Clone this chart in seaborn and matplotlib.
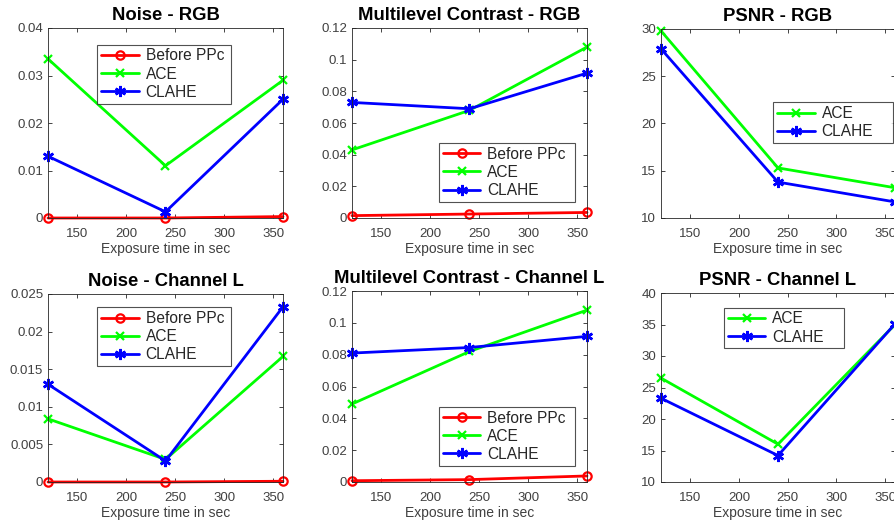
import matplotlib
matplotlib.use("Agg")
import matplotlib.pyplot as plt
import seaborn as sns
import numpy as np
import pandas as pd

exposure = [120, 240, 360]

noise_rgb_before = [0.0, 0.0, 0.0003]
noise_rgb_ace = [0.0335, 0.011, 0.029]
noise_rgb_clahe = [0.013, 0.0013, 0.025]

mc_rgb_before = [0.0015, 0.0025, 0.0035]
mc_rgb_ace = [0.043, 0.068, 0.108]
mc_rgb_clahe = [0.073, 0.069, 0.0915]

psnr_rgb_ace = [29.8, 15.3, 13.2]
psnr_rgb_clahe = [27.9, 13.8, 11.7]

noise_l_before = [0.0, 0.0, 0.0001]
noise_l_ace = [0.0084, 0.003, 0.0167]
noise_l_clahe = [0.013, 0.0028, 0.0233]

mc_l_before = [0.0008, 0.0015, 0.0038]
mc_l_ace = [0.049, 0.082, 0.108]
mc_l_clahe = [0.081, 0.0845, 0.0915]

psnr_l_ace = [26.5, 16.0, 35.0]
psnr_l_clahe = [23.3, 14.2, 35.1]

titles = ["Noise - RGB", "Multilevel Contrast - RGB", "PSNR - RGB",
          "Noise - Channel L", "Multilevel Contrast - Channel L", "PSNR - Channel L"]
xticks = [150, 200, 250, 300, 350]

sns.set_style("white")
plt.rcParams['font.family'] = ['Liberation Sans', 'DejaVu Sans']

W, H = 895, 524
fig = plt.figure(figsize=(W / 100, H / 100), dpi=100)

def add_ax(l, t, r, b):
    return fig.add_axes([l / W, 1 - b / H, (r - l) / W, (b - t) / H])

styles = {
    "Before PPc": dict(color=(1, 0, 0), marker="o", mfc="none", ms=6, mew=1.6),
    "ACE": dict(color=(0, 1, 0), marker="x", ms=6, mew=1.6),
    "CLAHE": dict(color=(0, 0, 1), marker=(6, 2, 0), ms=8, mew=1.8),
}

panels = [
    dict(pos=(48, 28, 283, 218), series={"Before PPc": noise_rgb_before, "ACE": noise_rgb_ace, "CLAHE": noise_rgb_clahe},
         ylim=(0, 0.04), yticks=[0, 0.01, 0.02, 0.03, 0.04], leg=(0.21, 0.59, 0.57, 0.335)),
    dict(pos=(352, 28, 587, 218), series={"Before PPc": mc_rgb_before, "ACE": mc_rgb_ace, "CLAHE": mc_rgb_clahe},
         ylim=(0, 0.12), yticks=[0, 0.02, 0.04, 0.06, 0.08, 0.1, 0.12], leg=(0.37, 0.07, 0.58, 0.34)),
    dict(pos=(661, 29, 895, 218), series={"ACE": psnr_rgb_ace, "CLAHE": psnr_rgb_clahe},
         ylim=(10, 30), yticks=[10, 15, 20, 25, 30], leg=(0.48, 0.39, 0.51, 0.23)),
    dict(pos=(48, 294, 283, 482), series={"Before PPc": noise_l_before, "ACE": noise_l_ace, "CLAHE": noise_l_clahe},
         ylim=(0, 0.025), yticks=[0, 0.005, 0.01, 0.015, 0.02, 0.025], leg=(0.21, 0.60, 0.57, 0.345)),
    dict(pos=(352, 291, 587, 482), series={"Before PPc": mc_l_before, "ACE": mc_l_ace, "CLAHE": mc_l_clahe},
         ylim=(0, 0.12), yticks=[0, 0.02, 0.04, 0.06, 0.08, 0.1, 0.12], leg=(0.37, 0.07, 0.58, 0.34)),
    dict(pos=(661, 293, 895, 482), series={"ACE": psnr_l_ace, "CLAHE": psnr_l_clahe},
         ylim=(10, 40), yticks=[10, 15, 20, 25, 30, 35, 40], leg=(0.27, 0.70, 0.51, 0.23)),
]

axc = (0.15, 0.15, 0.15)
for i, p in enumerate(panels):
    ax = add_ax(*p["pos"])
    for name, vals in p["series"].items():
        st = styles[name]
        sns.lineplot(x=exposure, y=vals, ax=ax, color=st["color"], lw=2, marker=st["marker"],
                     markersize=st["ms"], markeredgewidth=st["mew"], markeredgecolor=st["color"],
                     markerfacecolor=st.get("mfc", st["color"]), label=name, clip_on=False)
    ax.set_xlim(120, 360)
    ax.set_ylim(*p["ylim"])
    ax.set_xticks(xticks)
    ax.set_xticklabels([f"{v:g}" for v in xticks])
    ax.set_yticks(p["yticks"])
    ax.set_yticklabels([f"{v:g}" for v in p["yticks"]])
    ax.tick_params(direction="in", length=3, width=0.6, colors=axc, labelcolor=(0.25, 0.25, 0.25),
                   labelsize=9.5, top=True, right=True, left=True, bottom=True)
    ax.tick_params(axis="x", pad=7.5)
    ax.tick_params(axis="y", pad=3.5)
    for s in ax.spines.values():
        s.set_color(axc)
        s.set_linewidth(0.6)
        s.set_visible(True)
    ax.set_xlabel("Exposure time in sec", fontsize=10, color=(0.25, 0.25, 0.25), labelpad=1)
    ax.set_ylabel("")
    ax.set_title(titles[i], fontsize=13.3, fontweight="bold", pad=6, color="black")
    leg = ax.legend(loc="center", bbox_to_anchor=p["leg"], mode="expand", fontsize=11.2,
                    frameon=True, fancybox=False, handlelength=2.4, borderaxespad=0,
                    labelspacing=0.2, handletextpad=0.45, borderpad=0.25)
    leg.get_frame().set_edgecolor(axc)
    leg.get_frame().set_linewidth(0.8)

fig.savefig("out.png", dpi=100)
